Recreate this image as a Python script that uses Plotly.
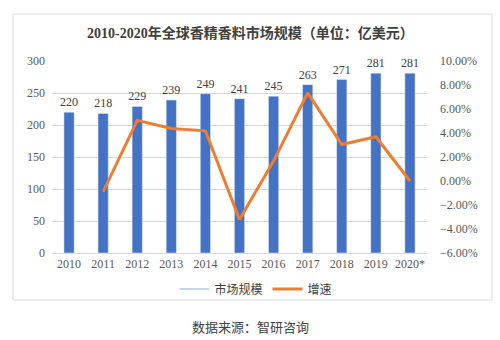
import plotly.graph_objects as go

years = ["2010", "2011", "2012", "2013", "2014", "2015", "2016", "2017", "2018", "2019", "2020*"]
market_size = [220, 218, 229, 239, 249, 241, 245, 263, 271, 281, 281]
growth_years = ["2011", "2012", "2013", "2014", "2015", "2016", "2017", "2018", "2019", "2020*"]
growth_pct = [-0.91, 5.05, 4.37, 4.18, -3.21, 1.66, 7.35, 3.04, 3.69, 0.00]

title_text = "2010-2020年全球香精香料市场规模（单位：亿美元）"
source_text = "数据来源：智研咨询"

BLUE = "#4472C4"
ORANGE = "#ED7D31"
SERIF = "Liberation Serif, Noto Sans CJK SC"
CJK = "Noto Sans CJK SC"

fig = go.Figure()
fig.add_trace(go.Bar(
    x=years, y=market_size, name="市场规模", marker_color=BLUE, width=0.3,
    text=[str(v) for v in market_size], textposition="outside", constraintext="none",
    textfont=dict(family=SERIF, size=12, color="#404040"),
    cliponaxis=False, showlegend=False,
))
fig.add_trace(go.Scatter(
    x=[None], y=[None], mode="lines", name="市场规模",
    line=dict(color="#8FAADC", width=1), showlegend=True,
))
fig.add_trace(go.Scatter(
    x=growth_years, y=growth_pct, mode="lines", name="增速", yaxis="y2",
    line=dict(color=ORANGE, width=3),
))

L, R, T, B = 52, 73, 61, 87
W, H = 500 - L - R, 340 - T - B

def px(x):
    return (x - L) / W

def py(y):
    return (340 - B - y) / H

fig.update_layout(
    width=500, height=340,
    margin=dict(l=L, r=R, t=T, b=B),
    paper_bgcolor="white", plot_bgcolor="white",
    xaxis=dict(
        type="category", showgrid=False, showline=True, linecolor="#D9D9D9",
        tickfont=dict(family=SERIF, size=12, color="#595959"), ticks="",
    ),
    yaxis=dict(
        range=[0, 300], dtick=50, showgrid=True, gridcolor="#D9D9D9",
        zeroline=False, showline=False, ticks="", ticklabelstandoff=6,
        tickfont=dict(family=SERIF, size=12, color="#595959"),
    ),
    yaxis2=dict(
        range=[-6, 10], dtick=2, overlaying="y", side="right",
        showgrid=False, zeroline=False, showline=False,
        tickformat=".2f", ticksuffix="%", ticks="", ticklabelstandoff=12,
        tickfont=dict(family=SERIF, size=12, color="#595959"),
    ),
    legend=dict(
        orientation="h", x=px(256), xanchor="center", y=py(289), yanchor="middle",
        font=dict(family=CJK, size=12, color="#404040"),
        itemwidth=30, bgcolor="rgba(0,0,0,0)",
    ),
    shapes=[dict(
        type="rect", xref="paper", yref="paper",
        x0=px(13), x1=px(492), y0=py(300), y1=py(14),
        line=dict(color="#D9D9D9", width=1), fillcolor="rgba(0,0,0,0)", layer="below",
    )],
    annotations=[
        dict(text="<b>" + title_text + "</b>", xref="paper", yref="paper",
             x=px(250), y=py(33), xanchor="center", yanchor="middle", showarrow=False,
             font=dict(family=SERIF, size=14, color="#404040")),
        dict(text=source_text, xref="paper", yref="paper",
             x=px(250), y=py(326), xanchor="center", yanchor="middle", showarrow=False,
             font=dict(family=CJK, size=13, color="#404040")),
    ],
)

fig.write_html("out.html")
